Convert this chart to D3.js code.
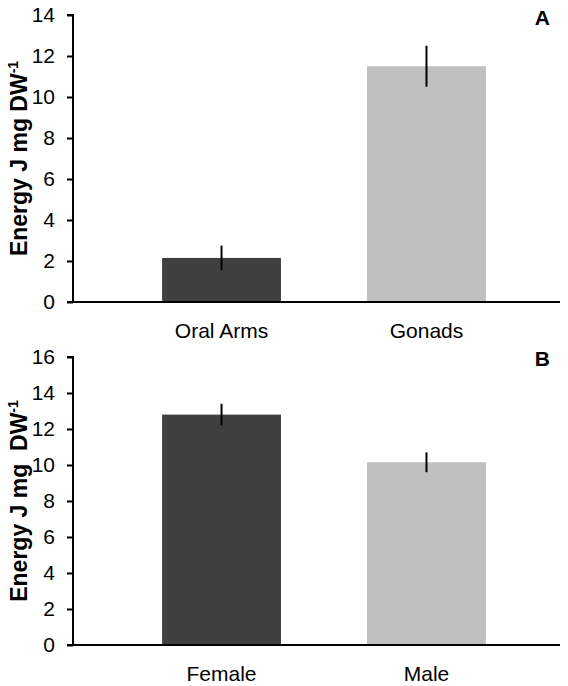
<!DOCTYPE html>
<html>
<head>
<meta charset="utf-8">
<script src="https://cdn.jsdelivr.net/npm/d3@7/dist/d3.min.js"></script>
<style>
html,body{margin:0;padding:0;background:#fff;}
svg{display:block;font-family:Arial,"Liberation Sans",sans-serif;}
</style>
</head>
<body>
<svg id="chart" width="568" height="686"></svg>
<script>
// ---- data ----
const categoriesA = ["Oral Arms", "Gonads"];
const valuesA = [2.15, 11.5];
const errorsA = [0.6, 1.0];
const ticksA = [0, 2, 4, 6, 8, 10, 12, 14];

const categoriesB = ["Female", "Male"];
const valuesB = [12.8, 10.15];
const errorsB = [0.6, 0.55];
const ticksB = [0, 2, 4, 6, 8, 10, 12, 14, 16];

const barColors = ["#404040", "#bfbfbf"];
const panelLabels = ["A", "B"];

const svg = d3.select("#chart");

function panel(cfg) {
  const g = svg.append("g");
  const y = d3.scaleLinear().domain([0, cfg.max]).range([cfg.y0, cfg.y1]);
  const x = d3.scaleBand().domain(cfg.cats).range([76, 572]).paddingInner(0.42).paddingOuter(0.42);
  const axisX = 73;

  // bars
  g.selectAll("rect.bar").data(cfg.vals).join("rect")
    .attr("x", (d, i) => x(cfg.cats[i]))
    .attr("width", x.bandwidth())
    .attr("y", d => y(d))
    .attr("height", d => y(0) - y(d))
    .attr("fill", (d, i) => barColors[i]);

  // error bars
  g.selectAll("line.err").data(cfg.vals).join("line")
    .attr("x1", (d, i) => x(cfg.cats[i]) + x.bandwidth() / 2)
    .attr("x2", (d, i) => x(cfg.cats[i]) + x.bandwidth() / 2)
    .attr("y1", (d, i) => y(d + cfg.errs[i]))
    .attr("y2", (d, i) => y(d - cfg.errs[i]))
    .attr("stroke", "#000").attr("stroke-width", 2);

  // y axis
  const ya = d3.axisLeft(y).tickValues(cfg.ticks).tickSize(6).tickPadding(12).tickFormat(d3.format("d"));
  const yg = g.append("g").attr("transform", `translate(${axisX},0)`).call(ya);
  yg.select(".domain").attr("stroke", "#000").attr("stroke-width", 2).attr("d", `M-6,${cfg.y1}H0V${cfg.y0}`);
  yg.selectAll(".tick line").attr("stroke", "#000").attr("stroke-width", 2);
  yg.selectAll(".tick text").attr("font-size", 21).attr("fill", "#000").attr("font-family", "Arial, 'Liberation Sans', sans-serif");

  // x axis line
  g.append("line").attr("x1", axisX - 6).attr("x2", 560)
    .attr("y1", y(0)).attr("y2", y(0)).attr("stroke", "#000").attr("stroke-width", 2);

  // category labels
  g.selectAll("text.cat").data(cfg.cats).join("text")
    .attr("x", d => x(d) + x.bandwidth() / 2)
    .attr("y", cfg.catY)
    .attr("text-anchor", "middle").attr("font-size", 21).attr("fill", "#000")
    .text(d => d);

  // y title
  const t = g.append("text")
    .attr("transform", `translate(27,${(cfg.y0 + cfg.y1) / 2}) rotate(-90)`)
    .attr("text-anchor", "middle").attr("font-size", 23).attr("font-weight", "bold").attr("fill", "#000");
  t.append("tspan").text(cfg.title);
  t.append("tspan").attr("font-size", 14).attr("dy", -9).text("-1");

  // panel label
  g.append("text").attr("x", 550).attr("y", cfg.labelY).attr("text-anchor", "end")
    .attr("font-size", 21).attr("font-weight", "bold").attr("fill", "#000").text(cfg.label);
}

panel({cats: categoriesA, vals: valuesA, errs: errorsA, ticks: ticksA, max: 14,
  y0: 302, y1: 15, catY: 338, title: "Energy J mg DW", label: panelLabels[0], labelY: 25});
panel({cats: categoriesB, vals: valuesB, errs: errorsB, ticks: ticksB, max: 16,
  y0: 645, y1: 357, catY: 681, title: "Energy J mg\u00a0 DW", label: panelLabels[1], labelY: 366});
</script>
</body>
</html>
